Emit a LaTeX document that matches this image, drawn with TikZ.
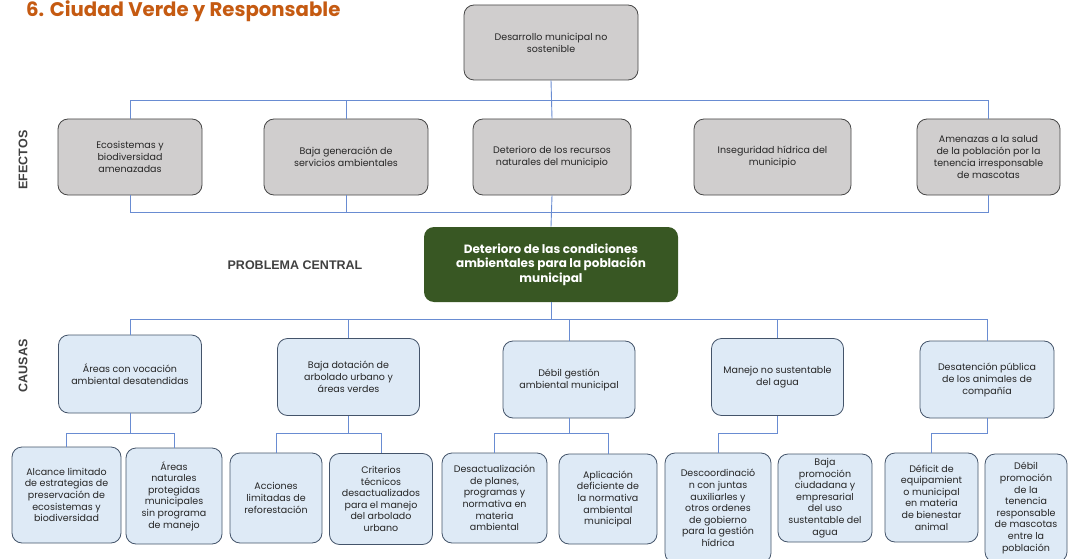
\documentclass[tikz,border=0pt]{standalone}
\usepackage{fontspec}
\setmainfont{Poppins}
\newfontfamily\fuenterotulo{Liberation Sans}
\definecolor{naranja}{RGB}{197,90,17}
\definecolor{grisefecto}{RGB}{208,206,206}
\definecolor{bordegris}{RGB}{70,70,70}
\definecolor{azulcausa}{RGB}{222,234,246}
\definecolor{bordeazul}{RGB}{68,84,106}
\definecolor{verdecentral}{RGB}{56,87,35}
\definecolor{lineaazul}{RGB}{105,140,210}
\definecolor{gristexto}{RGB}{64,64,64}

\tikzset{
  caja/.style={rounded corners=10pt, line width=0.8pt, align=center, inner sep=0pt, text=black!85},
  efecto/.style={caja, draw=bordegris, fill=grisefecto, font=\fontsize{9.5}{12}\selectfont},
  causa/.style={caja, draw=bordeazul, fill=azulcausa, font=\fontsize{9.5}{12}\selectfont},
  subcausa/.style={caja, draw=bordeazul, fill=azulcausa, font=\fontsize{9.5}{11.6}\selectfont},
  central/.style={caja, fill=verdecentral, text=white, font=\fontsize{12}{14.5}\selectfont\bfseries},
  rotulo/.style={text=gristexto, inner sep=0pt, font=\fontsize{12.5}{15}\selectfont\fuenterotulo\bfseries},
  linea/.style={draw=lineaazul, line width=0.9pt}
}

\begin{document}
\begin{tikzpicture}[x=1pt, y=-1pt]
  \useasboundingbox (0,0) rectangle (1070,559);

  % titulo y rotulos
  \node[anchor=base west, inner sep=0pt, text=naranja, font=\fontsize{19.7}{22}\selectfont\bfseries] (titulo) at (26,17) {6. Ciudad Verde y Responsable};
  \node[rotulo, rotate=90] (efectos) at (23,160) {EFECTOS};
  \node[rotulo, rotate=90] (causas) at (23,366) {CAUSAS};
  \node[rotulo] (problema) at (295,265) {PROBLEMA CENTRAL};

  % efectos
  \node[efecto, minimum width=174, minimum height=75] (des) at (551,42.5) {Desarrollo municipal no\\sostenible};
  \node[efecto, minimum width=144, minimum height=76] (e1) at (130,157) {Ecosistemas y\\biodiversidad\\amenazadas};
  \node[efecto, minimum width=164, minimum height=76] (e2) at (346,157) {Baja generación de\\servicios ambientales};
  \node[efecto, minimum width=158, minimum height=76] (e3) at (552,157) {Deterioro de los recursos\\naturales del municipio};
  \node[efecto, minimum width=157, minimum height=76] (e4) at (772.5,157) {Inseguridad hídrica del\\municipio};
  \node[efecto, minimum width=143, minimum height=76] (e5) at (988.5,157) {Amenazas a la salud\\de la población por la\\tenencia irresponsable\\de mascotas};

  % problema central
  \node[central, minimum width=254, minimum height=75] (cen) at (551,264.5) {Deterioro de las condiciones\\ambientales para la población\\municipal};

  % causas
  \node[causa, minimum width=143, minimum height=78] (c1) at (130,374) {Áreas con vocación\\ambiental desatendidas};
  \node[causa, minimum width=142, minimum height=77] (c2) at (348.5,377) {Baja dotación de\\arbolado urbano y\\áreas verdes};
  \node[causa, minimum width=132, minimum height=77] (c3) at (569,379.5) {Débil gestión\\ambiental municipal};
  \node[causa, minimum width=132, minimum height=77] (c4) at (777.5,377) {Manejo no sustentable\\del agua};
  \node[causa, minimum width=134, minimum height=77] (c5) at (987,379.5) {Desatención pública\\de los animales de\\compañía};

  % subcausas
  \node[subcausa, minimum width=109, minimum height=96] (s1a) at (66.5,495) {Alcance limitado\\de estrategias de\\preservación de\\ecosistemas y\\biodiversidad};
  \node[subcausa, minimum width=96, minimum height=96] (s1b) at (174,496) {Áreas\\naturales\\protegidas\\municipales\\sin programa\\de manejo};
  \node[subcausa, minimum width=92, minimum height=90] (s2a) at (276,498) {Acciones\\limitadas de\\reforestación};
  \node[subcausa, minimum width=103, minimum height=91] (s2b) at (381,499) {Criterios\\técnicos\\desactualizados\\para el manejo\\del arbolado\\urbano};
  \node[subcausa, minimum width=105, minimum height=90] (s3a) at (494.5,498) {Desactualización\\de planes,\\programas y\\normativa en\\materia\\ambiental};
  \node[subcausa, minimum width=98, minimum height=90] (s3b) at (608,499) {Aplicación\\deficiente de\\la normativa\\ambiental\\municipal};
  \node[subcausa, minimum width=106, minimum height=110] (s4a) at (718,508) {Descoordinació\\n con juntas\\auxiliarles y\\otros ordenes\\de gobierno\\para la gestión\\hídrica};
  \node[subcausa, minimum width=94, minimum height=88] (s4b) at (825,498) {Baja\\promoción\\ciudadana y\\empresarial\\del uso\\sustentable del\\agua};
  \node[subcausa, minimum width=93, minimum height=89] (s5a) at (931.5,497.5) {Déficit de\\equipamient\\o municipal\\en materia\\de bienestar\\animal};
  \node[subcausa, minimum width=82, minimum height=108] (s5b) at (1026,508) {Débil\\promoción\\de la\\tenencia\\responsable\\de mascotas\\entre la\\población};

  % barras de conexion
  \coordinate (bsup) at (0,100);
  \coordinate (binf) at (0,212);
  \coordinate (bcau) at (0,319);
  \coordinate (bsub) at (0,433);

  % efectos
  \draw[linea] (des.south) -- (e3.north);
  \draw[linea] (e1.north) -- (e1.north |- bsup) -- (e5.north |- bsup) -- (e5.north);
  \draw[linea] (e2.north) -- (e2.north |- bsup);
  \draw[linea] (e1.south) -- (e1.south |- binf) -- (e5.south |- binf) -- (e5.south);
  \draw[linea] (e2.south) -- (e2.south |- binf);
  \draw[linea] (e3.south) -- (cen.north);

  % causas
  \draw[linea] (cen.south) -- (cen.south |- bcau);
  \draw[linea] (c1.north) -- (c1.north |- bcau) -- (c5.north |- bcau) -- (c5.north);
  \draw[linea] (c2.north) -- (c2.north |- bcau);
  \draw[linea] (c3.north) -- (c3.north |- bcau);
  \draw[linea] (c4.north) -- (c4.north |- bcau);

  % subcausas
  \draw[linea] (c1.south) -- (c1.south |- bsub);
  \draw[linea] (s1a.north) -- (s1a.north |- bsub) -- (s1b.north |- bsub) -- (s1b.north);
  \draw[linea] (c2.south) -- (c2.south |- bsub);
  \draw[linea] (s2a.north) -- (s2a.north |- bsub) -- (s2b.north |- bsub) -- (s2b.north);
  \draw[linea] (c3.south) -- (c3.south |- bsub);
  \draw[linea] (s3a.north) -- (s3a.north |- bsub) -- (s3b.north |- bsub) -- (s3b.north);
  \draw[linea] (c4.south) -- (c4.south |- bsub) -- (s4a.north |- bsub) -- (s4a.north);
  \draw[linea] (c5.south) -- (c5.south |- bsub) -- (s5a.north |- bsub) -- (s5a.north);
\end{tikzpicture}
\end{document}
